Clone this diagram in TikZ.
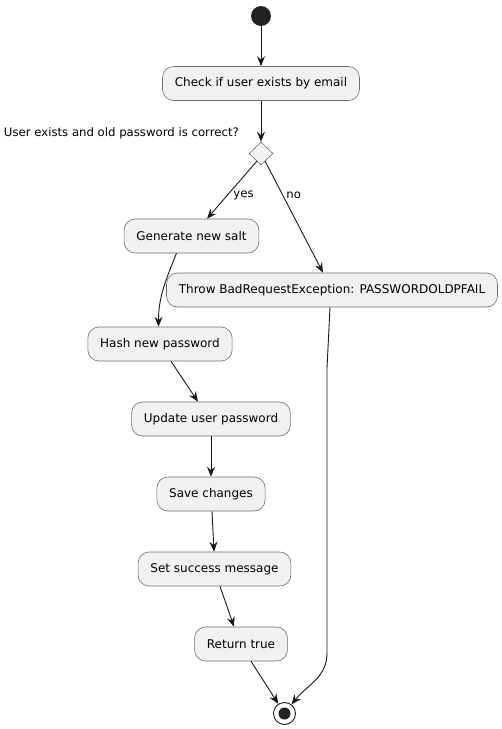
\documentclass[tikz,border=0pt]{standalone}
\usepackage{fontspec}
\setmainfont{DejaVu Sans}
\usepackage{tikz}
\usetikzlibrary{shapes,shapes.geometric}
\usetikzlibrary{arrows.meta}
\definecolor{actfill}{HTML}{F1F1F1}
\definecolor{actline}{HTML}{6E6E6E}
\definecolor{flowink}{HTML}{181818}
\definecolor{dotink}{HTML}{222222}
\tikzset{
	roundednode/.style={rectangle, rounded corners=11pt, draw=actline, fill=actfill, line width=0.6pt, minimum height=34pt, inner xsep=12.3pt, font=\fontsize{12}{14}\selectfont},
	decisionnode/.style={diamond, draw=actline, fill=actfill, line width=0.6pt, inner sep=0pt, minimum width=24pt, minimum height=23pt},
	flowarrow/.style={draw=flowink, line width=0.9pt, -{Stealth[length=10pt,width=8pt,inset=3.5pt]}},
	guardtext/.style={inner sep=1pt, font=\fontsize{11.7}{13}\selectfont}
}
\begin{document}
\begin{tikzpicture}[x=1pt,y=-1pt]
			\useasboundingbox (0,0) rectangle (502,729);
			\node[circle, fill=dotink, inner sep=0pt, minimum size=20pt] (start) at (261,16) {};
			\node[roundednode] (check) at (261,83.5) {Check if user exists by email};
			\node[decisionnode] (dec) at (261,153.5) {};
			\node[guardtext, anchor=east] (guard) at (240,133) {User exists and old password is correct?};
			\node[roundednode] (salt) at (191.5,236) {Generate new salt};
			\node[roundednode] (throw) at (332,290) {Throw BadRequestException: PASSWORDOLDPFAIL};
			\node[roundednode] (hash) at (160,344) {Hash new password};
			\node[roundednode] (update) at (211,419) {Update user password};
			\node[roundednode] (save) at (211,494) {Save changes};
			\node[roundednode] (success) at (214.5,569) {Set success message};
			\node[roundednode] (ret) at (241,644) {Return true};
			\node[circle, draw=flowink, fill=white, line width=0.9pt, inner sep=0pt, minimum size=22pt] (stop) at (284.5,713.5) {};
			\node[circle, fill=dotink, inner sep=0pt, minimum size=12pt] (stopdot) at (stop) {};
			
			\draw[flowarrow] (start) -- (check);
			\draw[flowarrow] (check) -- (dec);
			\draw[flowarrow] ([xshift=-4pt,yshift=-7.5pt]dec.center) -- node[guardtext, pos=0.6, anchor=west, xshift=5pt] {yes} ([xshift=15.5pt]salt.north);
			\draw[flowarrow] ([xshift=4pt,yshift=-7.5pt]dec.center) -- node[guardtext, pos=0.31, anchor=west, xshift=2pt] {no} ([xshift=-9pt]throw.north);
			\draw[flowarrow] ([xshift=-15pt]salt.south) to[out=-112,in=90] ([xshift=-1.5pt]hash.north);
			\draw[flowarrow] ([xshift=11pt]hash.south) -- ([xshift=-13pt]update.north);
			\draw[flowarrow] (update) -- (save);
			\draw[flowarrow] ([xshift=1pt]save.south) -- ([xshift=-0.5pt]success.north);
			\draw[flowarrow] ([xshift=5.5pt]success.south) -- ([xshift=-7pt]ret.north);
			\draw[flowarrow] ([xshift=10pt]ret.south) -- (stop);
			\draw[flowarrow] ([xshift=-2pt]throw.south) -- ++(-3,61) -- ++(0,285) to[out=-90,in=52] (stop);
		\end{tikzpicture}
\end{document}
